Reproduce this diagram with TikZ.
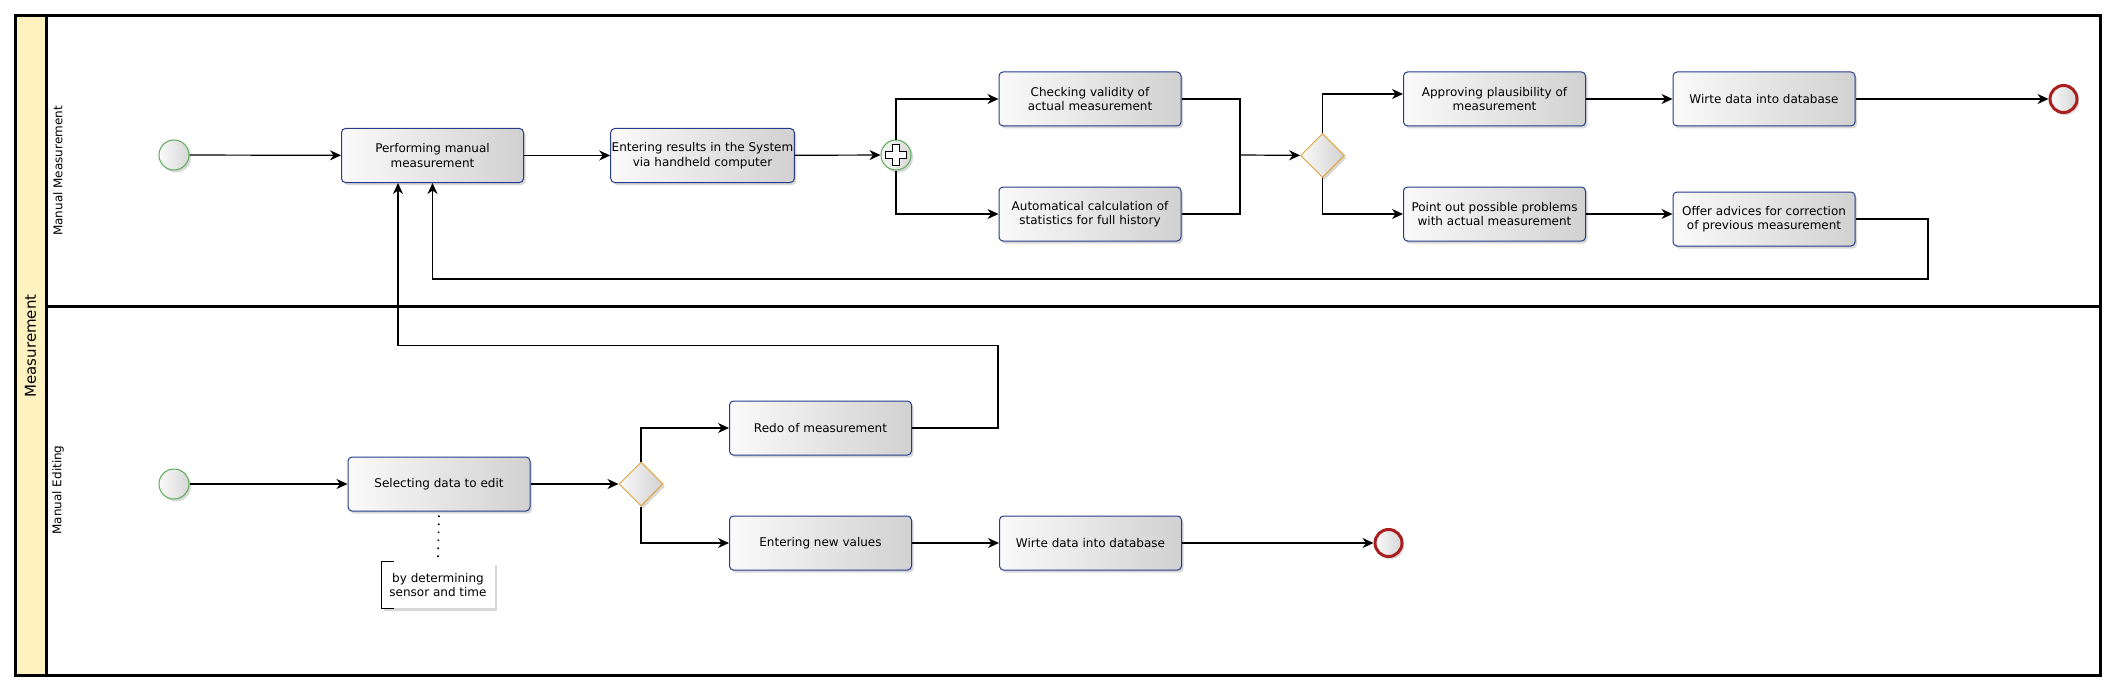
\documentclass[tikz,border=0pt]{standalone}
\usepackage{fontspec}
\setmainfont{DejaVu Sans}
\usetikzlibrary{shapes.geometric,arrows.meta,shadows}
\definecolor{taskblue}{RGB}{40,60,140}
\definecolor{startgreen}{RGB}{90,170,90}
\definecolor{endred}{RGB}{170,30,30}
\definecolor{gworange}{RGB}{225,165,60}
\definecolor{poolyellow}{RGB}{255,242,193}
\begin{document}
\begin{tikzpicture}[x=1pt,y=-1pt,
  font=\fontsize{12}{14.5}\selectfont,
  arr/.style={draw=black, line width=1.2pt, -{Stealth[length=11pt,width=10pt,inset=3.5pt]}},
  ln/.style={draw=black, line width=1.2pt},
  shd/.style={drop shadow={shadow xshift=2pt,shadow yshift=-2.5pt,opacity=0.3,fill=gray}},
  task/.style={rectangle, rounded corners=4pt, draw=taskblue, line width=1pt,
    minimum width=182pt, minimum height=54pt, align=center, inner sep=1pt,
    left color=gray!4, right color=gray!36, shd},
  startev/.style={circle, minimum size=30pt, inner sep=0pt, draw=startgreen, line width=1pt,
    left color=gray!4, right color=gray!32, shd},
  endev/.style={circle, minimum size=27pt, inner sep=0pt, draw=endred, line width=3pt,
    left color=gray!4, right color=gray!32, shd},
  gw/.style={diamond, minimum size=44pt, inner sep=0pt, draw=gworange, line width=1pt,
    left color=gray!4, right color=gray!36, shd},
  anno/.style={rectangle, fill=white, minimum width=113pt, minimum height=46pt, align=center,
    inner sep=1pt, shd},
  lanelbl/.style={rotate=90, font=\fontsize{12}{14}\selectfont}
]
\useasboundingbox (0,0) rectangle (2116,690);
% pool
\fill[white] (15,16) rectangle (2100,675);
\fill[poolyellow] (15,16) rectangle (46,675);
\draw[line width=3pt] (15,16) rectangle (2100,675);
\draw[line width=3pt] (46,16) -- (46,675);
\draw[line width=3pt] (46,306.5) -- (2100,306.5);
\node[rotate=90, font=\fontsize{15}{18}\selectfont] (title) at (30.5,346) {Measurement};
\node[lanelbl] (lane1) at (58,171) {Manual Measurement};
\node[lanelbl] (lane2) at (58,490) {Manual Editing};

% top lane
\node[startev] (s1) at (174,155) {};
\node[task] (pm) at (432.5,155.5) {Performing manual\\measurement};
\node[task] (er) at (702.5,155.5) {Entering results in the System\\via handheld computer};
\node[startev] (pg) at (896,155) {};
\draw[line width=0.9pt, fill=white]
  ([shift={(-3.5,-10.5)}]pg.center) -- ([shift={(3.5,-10.5)}]pg.center) -- ([shift={(3.5,-3.5)}]pg.center)
  -- ([shift={(10.5,-3.5)}]pg.center) -- ([shift={(10.5,3.5)}]pg.center) -- ([shift={(3.5,3.5)}]pg.center)
  -- ([shift={(3.5,10.5)}]pg.center) -- ([shift={(-3.5,10.5)}]pg.center) -- ([shift={(-3.5,3.5)}]pg.center)
  -- ([shift={(-10.5,3.5)}]pg.center) -- ([shift={(-10.5,-3.5)}]pg.center) -- ([shift={(-3.5,-3.5)}]pg.center) -- cycle;
\node[task] (cv) at (1090,99) {Checking validity of\\actual measurement};
\node[task] (ac) at (1090,214) {Automatical calculation of\\statistics for full history};
\coordinate (j1) at (1240,155);
\node[gw] (xg1) at (1322.5,155.5) {};
\node[task] (ap) at (1494.5,99) {Approving plausibility of\\measurement};
\node[task] (po) at (1494.5,214) {Point out possible problems\\with actual measurement};
\node[task] (wd1) at (1764,99) {Wirte data into database};
\node[task] (oa) at (1764,219) {Offer advices for correction\\of previous measurement};
\node[endev] (e1) at (2063.5,99) {};
\coordinate (l1) at (1928,279);

\draw[arr] (s1) -- (pm);
\draw[arr] (pm) -- (er);
\draw[arr] (er) -- (pg);
\draw[arr] (pg.north) |- (cv.west);
\draw[arr] (pg.south) |- (ac.west);
\draw[ln] (cv.east) -| (j1);
\draw[ln] (ac.east) -| (j1);
\draw[arr] (j1) -- (xg1);
\draw[arr] (xg1.north) |- ([yshift=5pt]ap.west);
\draw[arr] (xg1.south) |- (po.west);
\draw[arr] (ap) -- (wd1);
\draw[arr] (wd1) -- (e1);
\draw[arr] (po.east) -- (po.east -| oa.west);
\draw[arr] (oa.east) -| (l1) -| (pm.south);

% bottom lane
\node[startev] (s2) at (174,484) {};
\node[task] (sd) at (439,484) {Selecting data to edit};
\node[gw] (xg2) at (641,484) {};
\node[task] (rd) at (820.5,428) {Redo of measurement};
\node[task] (nv) at (820.5,543) {Entering new values};
\node[task] (wd2) at (1090.5,543) {Wirte data into database};
\node[endev] (e2) at (1388.5,543) {};
\coordinate (l2) at (998,345.5);
\node[anno] (an) at (438,585) {by determining\\sensor and time};
\draw[line width=1pt] ([xshift=13pt]an.north west) -- (an.north west) -- (an.south west) -- ([xshift=13pt]an.south west);
\draw[line width=1.6pt, dash pattern=on 1.6pt off 6.4pt] ([yshift=-4pt]sd.south) -- ([yshift=4pt]an.north);

\draw[arr] (s2) -- (sd);
\draw[arr] (sd) -- (xg2);
\draw[arr] (xg2.north) |- (rd.west);
\draw[arr] (xg2.south) |- (nv.west);
\draw[arr] (nv) -- (wd2);
\draw[arr] (wd2) -- (e2);
\draw[arr] (rd.east) -| (l2) -| ([xshift=-34.5pt]pm.south);
\end{tikzpicture}
\end{document}
